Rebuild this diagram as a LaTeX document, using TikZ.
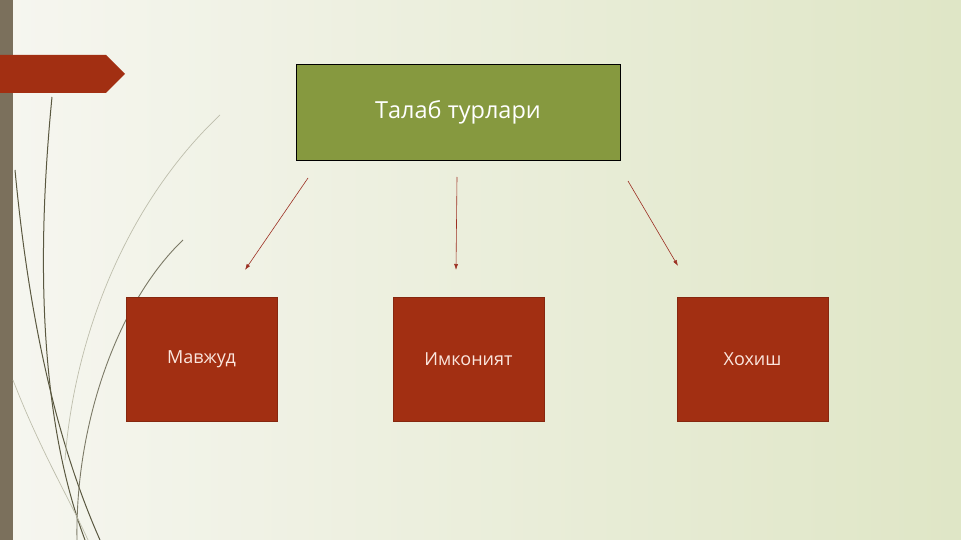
\documentclass[tikz,border=0pt]{standalone}
\usepackage{fontspec}
\setmainfont{Open Sans}
\usetikzlibrary{arrows.meta}

\definecolor{olivebox}{HTML}{86993F}
\definecolor{rustbox}{HTML}{A22F12}
\definecolor{rustedge}{HTML}{86270F}
\definecolor{sidebar}{HTML}{7B705C}
\definecolor{bgleft}{HTML}{F6F6F0}
\definecolor{bgright}{HTML}{DFE6C6}
\definecolor{arrowred}{HTML}{9C2F22}
\definecolor{curvedark}{HTML}{5A5840}
\definecolor{curvefaint}{HTML}{BEBEAC}
\definecolor{subtext}{HTML}{FBE6DE}

\tikzset{
  titlebox/.style={draw=black, line width=0.8pt, fill=olivebox, text=white,
    minimum width=324pt, minimum height=96pt, inner sep=0pt,
    font=\fontsize{23.5}{28}\selectfont},
  kindbox/.style={draw=rustedge, line width=0.8pt, fill=rustbox, text=subtext,
    minimum width=151pt, minimum height=124pt, inner sep=0pt,
    font=\fontsize{18}{22}\selectfont},
  kindarrow/.style={arrowred, line width=0.6pt, -{Latex[length=6pt,width=4pt]}},
}

\begin{document}
\begin{tikzpicture}[x=1pt, y=-1pt]
    \useasboundingbox (0,0) rectangle (961,540);
    % background
    \shade[left color=bgleft, right color=bgright] (0,0) rectangle (961,540);
    \fill[sidebar] (0,0) rectangle (13,540);
    \fill[rustbox] (0,55) -- (106,55) -- (125,74) -- (106,93) -- (0,93) -- cycle;
    % swooping lines
    \draw[curvedark, line width=1pt] (52,97) .. controls (36,260) and (40,420) .. (85,540);
    \draw[curvedark, line width=1pt] (15,170) .. controls (30,330) and (60,450) .. (100,540);
    \draw[curvedark!80, line width=0.9pt] (183,240) .. controls (120,300) and (75,420) .. (77,540);
    \draw[curvefaint, line width=0.7pt] (220,115) .. controls (130,200) and (75,330) .. (65,460);
    \draw[curvefaint, line width=0.7pt] (13,380) .. controls (40,450) and (70,500) .. (88,540);
    % boxes
    \node[titlebox] (talab) at (458,112) {Талаб турлари};
    \node[kindbox] (mavjud) at (201.5,359) {Мавжуд};
    \node[kindbox] (imkon) at (468.5,359) {Имконият};
    \node[kindbox] (xohish) at (752.5,359) {Хохиш};
    % arrow ends
    \coordinate (a1) at (308,178);
    \coordinate (b1) at (245,270);
    \coordinate (a2) at (457,177);
    \coordinate (b2) at (456,270);
    \coordinate (a3) at (628,181);
    \coordinate (b3) at (678,266);
    \draw[kindarrow] (a1) -- (b1);
    \draw[kindarrow] (a2) -- (b2);
    \draw[kindarrow] (a3) -- (b3);
\end{tikzpicture}
\end{document}
